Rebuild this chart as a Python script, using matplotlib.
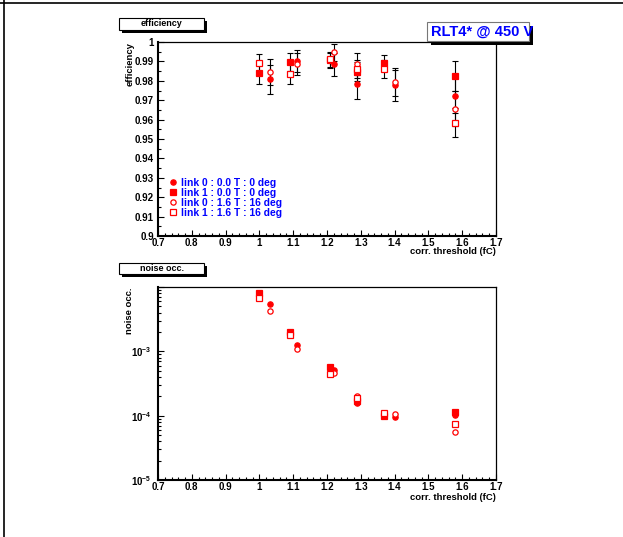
"""Efficiency and noise occupancy vs corrected threshold, ROOT-style canvas."""

import math

import matplotlib
matplotlib.use("Agg")
import matplotlib.pyplot as plt
from matplotlib.lines import Line2D
from matplotlib.patches import Rectangle
from matplotlib.ticker import MultipleLocator, FuncFormatter, LogLocator, NullFormatter

# thresholds (fC) per link
x_link0 = [1.03, 1.11, 1.22, 1.29, 1.40, 1.58]
x_link1 = [1.00, 1.09, 1.21, 1.29, 1.37, 1.58]

# efficiency
eff_l0_0T = [0.9808, 0.9902, 0.9885, 0.9782, 0.9777, 0.9722]
err_l0_0T = [0.0074, 0.0057, 0.0060, 0.0077, 0.0079, 0.0090]
eff_l1_0T = [0.9840, 0.9895, 0.9905, 0.9847, 0.9893, 0.9827]
err_l1_0T = [0.0055, 0.0047, 0.0040, 0.0050, 0.0042, 0.0077]
eff_l0_16T = [0.9844, 0.9888, 0.9947, 0.9888, 0.9794, 0.9657]
err_l0_16T = [0.0066, 0.0057, 0.0043, 0.0057, 0.0070, 0.0090]
eff_l1_16T = [0.9892, 0.9835, 0.9911, 0.9861, 0.9861, 0.9583]
err_l1_16T = [0.0045, 0.0050, 0.0040, 0.0045, 0.0047, 0.0075]

# noise occupancy
occ_l0_0T = [5.4e-3, 1.245e-3, 5.08e-4, 1.6e-4, 9.55e-5, 1.01e-4]
occ_l1_0T = [8.0e-3, 2.0e-3, 5.7e-4, 1.7e-4, 1.0e-4, 1.13e-4]
occ_l0_16T = [4.25e-3, 1.09e-3, 4.56e-4, 2.05e-4, 1.05e-4, 5.52e-5]
occ_l1_16T = [6.86e-3, 1.78e-3, 4.45e-4, 1.85e-4, 1.11e-4, 7.43e-5]

labels = ["link 0 : 0.0 T : 0 deg", "link 1 : 0.0 T : 0 deg",
          "link 0 : 1.6 T : 16 deg", "link 1 : 1.6 T : 16 deg"]

plt.rcParams["font.family"] = ["Liberation Sans", "DejaVu Sans"]
plt.rcParams["font.weight"] = "bold"
plt.rcParams["mathtext.fontset"] = "custom"
plt.rcParams["mathtext.rm"] = "Liberation Sans:bold"
plt.rcParams["mathtext.bf"] = "Liberation Sans:bold"
plt.rcParams["mathtext.it"] = "Liberation Sans:bold"

W, H = 623, 537
RED = "#ff0000"
BLUE = "#0000ff"


def fx(px):
    return px / W


def fy(py):
    return 1 - py / H


def ax_rect(x0, y0, x1, y1):
    return [fx(x0), fy(y1), fx(x1) - fx(x0), fy(y0) - fy(y1)]


def label_box(fig, x0, y0, x1, y1, shadow, edge):
    sh = Rectangle((fx(x0 + shadow), fy(y1 + shadow)), fx(x1) - fx(x0), fy(y0) - fy(y1),
                   transform=fig.transFigure, facecolor="black", edgecolor="none", zorder=5)
    box = Rectangle((fx(x0), fy(y1)), fx(x1) - fx(x0), fy(y0) - fy(y1),
                    transform=fig.transFigure, facecolor="white", edgecolor=edge,
                    linewidth=0.8, zorder=6)
    fig.add_artist(sh)
    fig.add_artist(box)


def style_axes(ax):
    for side in ("left", "bottom"):
        ax.spines[side].set_linewidth(1.5)
    for side in ("top", "right"):
        ax.spines[side].set_linewidth(0.9)
    ax.tick_params(which="both", direction="in", top=False, right=False, labelsize=7, width=0.8)
    ax.tick_params(which="major", length=4)
    ax.tick_params(which="minor", length=2)
    ax.tick_params(axis="x", pad=1.5)
    ax.tick_params(axis="y", pad=3)
    ax.set_xlim(0.7, 1.7)
    ax.xaxis.set_major_locator(MultipleLocator(0.1))
    ax.xaxis.set_minor_locator(MultipleLocator(0.02))
    ax.xaxis.set_major_formatter(FuncFormatter(lambda v, p: f"{v:g}"))


fig = plt.figure(figsize=(W / 100, H / 100), dpi=100)

# ---- efficiency ----
ax1 = fig.add_axes(ax_rect(158, 42, 496, 236))
style_axes(ax1)
ax1.set_ylim(0.9, 1.0)
ax1.yaxis.set_major_locator(MultipleLocator(0.01))
ax1.yaxis.set_minor_locator(MultipleLocator(0.005))
ax1.yaxis.set_major_formatter(FuncFormatter(lambda v, p: f"{round(v, 3):g}"))

series = [
    (x_link0, eff_l0_0T, err_l0_0T, "o", RED),
    (x_link1, eff_l1_0T, err_l1_0T, "s", RED),
    (x_link0, eff_l0_16T, err_l0_16T, "o", "white"),
    (x_link1, eff_l1_16T, err_l1_16T, "s", "white"),
]
for xs, ys, es, m, fc in series:
    ax1.errorbar(xs, ys, yerr=es, fmt="none", ecolor="black", elinewidth=0.8,
                 capsize=2.2, capthick=0.8, zorder=2)
for xs, ys, es, m, fc in series:
    ax1.plot(xs, ys, ls="none", marker=m, ms=4.0 if m == "s" else 3.8,
             mfc=fc, mec=RED, mew=0.9, zorder=3)

handles = [Line2D([], [], ls="none", marker=m, ms=4.0 if m == "s" else 3.8,
                  mfc=fc, mec=RED, mew=0.9) for _, _, _, m, fc in series]
ax1.legend(handles, labels, loc="lower left", bbox_to_anchor=(0.033, 0.095),
           frameon=False, borderpad=0, borderaxespad=0, labelspacing=0.0,
           handlelength=0.8, handletextpad=0.4, labelcolor=BLUE,
           prop={"weight": "bold", "size": 7.4})

fig.text(fx(130), fy(42), "efficiency", rotation=90, ha="center", va="top",
         fontsize=6.8, fontweight="bold")
fig.text(fx(496), fy(252), "corr. threshold (fC)", ha="right", va="center",
         fontsize=6.8, fontweight="bold")

# ---- noise occupancy ----
ax2 = fig.add_axes(ax_rect(158, 287, 496, 480))
style_axes(ax2)
ax2.tick_params(axis="y", pad=4.5)
ax2.set_yscale("log")
ax2.set_ylim(1e-5, 1e-2)
ax2.yaxis.set_major_locator(LogLocator(base=10, numticks=10))
ax2.yaxis.set_minor_locator(LogLocator(base=10, subs=range(2, 10), numticks=10))
ax2.yaxis.set_minor_formatter(NullFormatter())


def log_fmt(v, p):
    exp = int(round(math.log10(v)))
    if exp >= -2:
        return ""
    return r"$10^{%d}$" % exp


ax2.yaxis.set_major_formatter(FuncFormatter(log_fmt))

occ_series = [
    (x_link0, occ_l0_0T, "o", RED),
    (x_link1, occ_l1_0T, "s", RED),
    (x_link0, occ_l0_16T, "o", "white"),
    (x_link1, occ_l1_16T, "s", "white"),
]
for xs, ys, m, fc in occ_series:
    ax2.plot(xs, ys, ls="none", marker=m, ms=4.0 if m == "s" else 3.8,
             mfc=fc, mec=RED, mew=0.9, zorder=3)

fig.text(fx(130), fy(287), "noise occ.", rotation=90, ha="center", va="top",
         fontsize=6.8, fontweight="bold")
fig.text(fx(496), fy(497), "corr. threshold (fC)", ha="right", va="center",
         fontsize=6.8, fontweight="bold")

# ---- title boxes ----
label_box(fig, 119, 18, 204, 30, 3, "black")
fig.text(fx(161.5), fy(24), "efficiency", ha="center", va="center",
         fontsize=6.5, fontweight="bold", zorder=7)
label_box(fig, 119, 263, 204, 274, 3, "black")
fig.text(fx(161.5), fy(268.5), "noise occ.", ha="center", va="center",
         fontsize=6.5, fontweight="bold", zorder=7)
label_box(fig, 427, 22, 529, 41, 4, "#777777")
fig.text(fx(431), fy(32), "RLT4* @ 450 V", ha="left", va="center", color=BLUE,
         fontsize=10.5, fontweight="bold", zorder=8)

# canvas frame lines
fig.add_artist(Line2D([0, 1], [fy(2.5), fy(2.5)], transform=fig.transFigure,
                      color="black", lw=1.2))
fig.add_artist(Line2D([fx(3.5), fx(3.5)], [0, 1], transform=fig.transFigure,
                      color="black", lw=1.2))

fig.savefig("out.png", dpi=100)
